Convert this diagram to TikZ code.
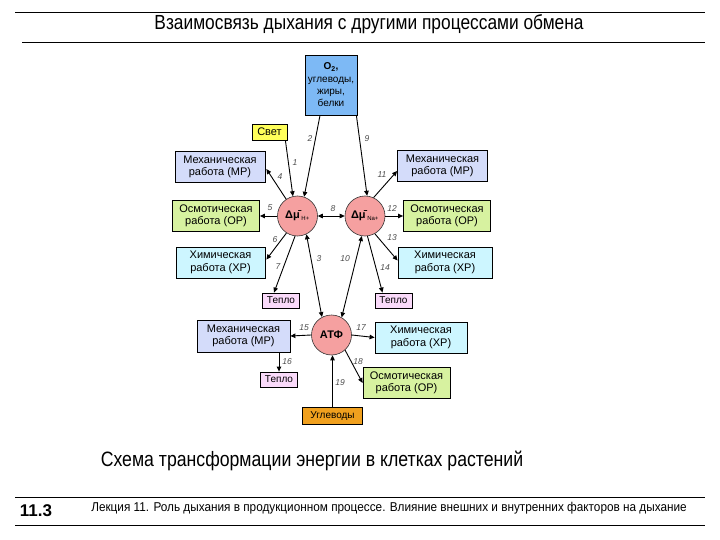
\documentclass[tikz,border=0pt]{standalone}
\usepackage{fontspec}
\setmainfont{Liberation Sans}
\newfontfamily\narrowfont[FakeStretch=0.85]{Liberation Sans}
\newfontfamily\footfont[FakeStretch=0.92]{Liberation Sans}
\usetikzlibrary{arrows.meta}
\definecolor{srcc}{RGB}{125,185,245}
\definecolor{svetc}{RGB}{255,255,90}
\definecolor{mrc}{RGB}{212,220,250}
\definecolor{orc}{RGB}{215,242,160}
\definecolor{hrc}{RGB}{205,246,255}
\definecolor{tc}{RGB}{250,218,250}
\definecolor{circc}{RGB}{245,160,160}
\definecolor{uglc}{RGB}{240,160,30}
\begin{document}
\begin{tikzpicture}[x=1pt,y=-1pt,
  box/.style={draw=black, line width=0.8pt, inner sep=1pt, align=center,
    font=\fontsize{11}{12.5}\selectfont},
  mr/.style={box, fill=mrc, minimum width=90pt, minimum height=31pt},
  orb/.style={box, fill=orc, minimum width=87pt, minimum height=31pt},
  hr/.style={box, fill=hrc, minimum width=89pt, minimum height=31pt},
  heat/.style={box, fill=tc, minimum width=37pt, minimum height=15pt, font=\fontsize{10}{11}\selectfont},
  circ/.style={circle, draw=black!80, line width=0.6pt, fill=circc, minimum size=40pt, inner sep=0pt,
    font=\fontsize{11}{12}\selectfont},
  conn/.style={line width=0.9pt, -{Triangle[length=5pt,width=4.5pt]}},
  dconn/.style={line width=0.9pt, {Triangle[length=5pt,width=4.5pt]}-{Triangle[length=5pt,width=4.5pt]}},
  num/.style={font=\fontsize{8.5}{9}\selectfont\itshape, text=black!70, inner sep=0pt},
  rule/.style={line width=0.8pt}
]
\useasboundingbox (0,0) rectangle (720,540);

% header and footer
\draw[rule] (15,12) -- (705,12);
\node[font=\narrowfont\fontsize{20.4}{23}\selectfont] (title) at (369,24) {Взаимосвязь дыхания с другими процессами обмена};
\draw[rule] (22,42) -- (705,42);
\node[font=\narrowfont\fontsize{20.8}{23}\selectfont] (caption) at (312,461) {Схема трансформации энергии в клетках растений};
\draw[rule] (15,497) -- (705,497);
\node[font=\bfseries\fontsize{17}{19}\selectfont] (lnum) at (36,511) {11.3};
\node[font=\footfont\fontsize{12.8}{14}\selectfont] (foot) at (389,508) {Лекция 11. Роль дыхания в продукционном процессе. Влияние внешних и внутренних факторов на дыхание};
\draw[rule] (15,525) -- (705,525);

% boxes
\node[box, fill=srcc, minimum width=52pt, minimum height=60pt, font=\fontsize{10}{12.3}\selectfont] (src) at (331,85) {\textbf{O\textsubscript{2},}\\углеводы,\\жиры,\\белки};
\node[box, fill=svetc, minimum width=35pt, minimum height=16pt] (svet) at (269.5,132) {Свет};
\node[mr] (mrL) at (220,167) {Механическая\\работа (МР)};
\node[mr] (mrR) at (442.5,166) {Механическая\\работа (МР)};
\node[orb] (orL) at (216,216) {Осмотическая\\работа (ОР)};
\node[orb] (orR) at (447,216) {Осмотическая\\работа (ОР)};
\node[hr] (hrL) at (220.5,262.5) {Химическая\\работа (ХР)};
\node[hr, minimum width=94pt] (hrR) at (445,262.5) {Химическая\\работа (ХР)};
\node[heat] (tL) at (281,300.5) {Тепло};
\node[heat] (tR) at (393.5,300.5) {Тепло};
\node[mr, minimum width=93pt, minimum height=32pt] (mrB) at (243.5,336) {Механическая\\работа (МР)};
\node[hr, minimum width=92pt] (hrB) at (421,337.5) {Химическая\\работа (ХР)};
\node[heat] (tB) at (279,379.5) {Тепло};
\node[orb] (orB) at (406.5,383) {Осмотическая\\работа (ОР)};
\node[box, fill=uglc, minimum width=60pt, minimum height=17pt, font=\fontsize{10}{11}\selectfont] (ugl) at (332.5,416) {Углеводы};

% circles
\node[circ] (H) at (297.5,216) {\textbf{Δ\={μ}}\textsubscript{\fontsize{6}{6}\selectfont H+}};
\node[circ] (Na) at (365,216) {\textbf{Δ\={μ}}\textsubscript{\fontsize{6}{6}\selectfont Na+}};
\node[circ] (atp) at (331.5,335) {\textbf{АТФ}};

% connectors
\draw[conn] ([xshift=-2pt]svet.south east) -- (H.103);
\draw[conn] ([xshift=-11pt]src.south) -- (H.71);
\draw[conn] ([xshift=-1pt]src.south east) -- (Na.84);
\draw[conn] (H.124) -- ([yshift=-2pt,xshift=1pt]mrL.east);
\draw[conn] (Na.65) -- ([yshift=-5pt]mrR.west);
\draw[conn] (H.west) -- (orL.east);
\draw[conn] (H.237) -- ([yshift=3pt,xshift=1pt]hrL.east);
\draw[conn] (H.263) -- ([xshift=-7pt]tL.north);
\draw[dconn] (H.-64) -- (atp.118);
\draw[dconn] (Na.261) -- (atp.60);
\draw[dconn] (H.east) -- (Na.west);
\draw[conn] (Na.east) -- (orR.west);
\draw[conn] (Na.-61) -- ([yshift=2pt]hrR.west);
\draw[conn] (Na.-83) -- ([xshift=-11pt]tR.north);
\draw[conn] (atp.west) -- (mrB.east);
\draw[conn] (atp.east) -- (hrB.west);
\draw[conn] (atp.-48) -- (orB.west);
\draw[conn] (tB.north |- mrB.south) -- (tB.north);
\draw[conn] (ugl.north) -- (ugl.north |- atp.south);

% numbers
\node[num] (n1) at (295,163) {1};
\node[num] (n2) at (310,139) {2};
\node[num] (n3) at (319,259) {3};
\node[num] (n4) at (280,177) {4};
\node[num] (n5) at (270,208) {5};
\node[num] (n6) at (275,240) {6};
\node[num] (n7) at (278,267) {7};
\node[num] (n8) at (333,209) {8};
\node[num] (n9) at (367,139) {9};
\node[num] (n10) at (345,259) {10};
\node[num] (n11) at (382,175) {11};
\node[num] (n12) at (392,209) {12};
\node[num] (n13) at (392,238) {13};
\node[num] (n14) at (385,268) {14};
\node[num] (n15) at (304,328) {15};
\node[num] (n16) at (287,362) {16};
\node[num] (n17) at (361,328) {17};
\node[num] (n18) at (358,362) {18};
\node[num] (n19) at (340,383) {19};
\end{tikzpicture}
\end{document}
